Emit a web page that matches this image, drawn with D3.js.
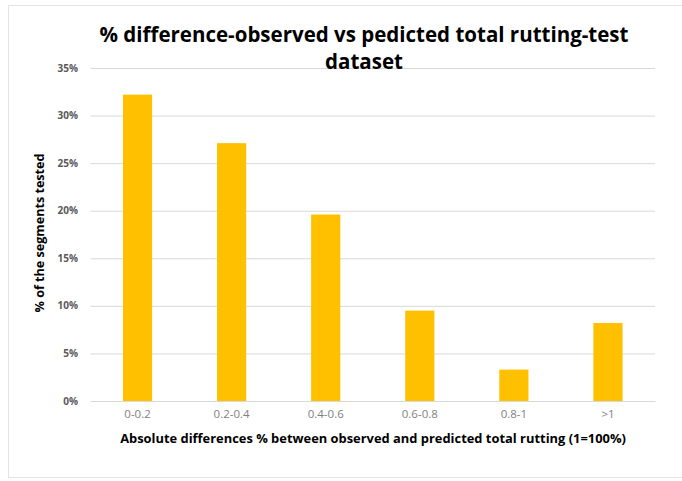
<!DOCTYPE html>
<html>
<head>
<meta charset="utf-8">
<script src="https://cdnjs.cloudflare.com/ajax/libs/d3/7.8.5/d3.min.js"></script>
<style>
  body { margin: 0; background: #fff; }
  text { font-family: "Open Sans", sans-serif; }
</style>
</head>
<body>
<div id="chart"></div>
<script>
var categories = ["0-0.2", "0.2-0.4", "0.4-0.6", "0.6-0.8", "0.8-1", ">1"];
var shares = [0.322, 0.271, 0.196, 0.095, 0.033, 0.082];
var yTicks = [0, 0.05, 0.10, 0.15, 0.20, 0.25, 0.30, 0.35];

var W = 682, H = 481;
var margin = {top: 68, right: 27, bottom: 80, left: 90.5};

var svg = d3.select("#chart").append("svg")
    .attr("width", W)
    .attr("height", H);

// light frame around the chart
svg.append("rect")
    .attr("x", 8.5)
    .attr("y", 5.5)
    .attr("width", 700)
    .attr("height", 472)
    .attr("fill", "#fff")
    .attr("stroke", "#e3e3e3");

var x = d3.scaleBand()
    .domain(categories)
    .range([margin.left, W - margin.right])
    .paddingInner(0.69)
    .paddingOuter(0.345);

var y = d3.scaleLinear()
    .domain([0, 0.35])
    .range([H - margin.bottom, margin.top]);

// gridlines
svg.append("g")
    .attr("class", "grid")
    .attr("transform", "translate(" + margin.left + ",0)")
    .call(d3.axisLeft(y).tickValues(yTicks).tickSize(-(W - margin.right - margin.left)).tickFormat(""))
    .call(function (g) { g.select(".domain").remove(); })
    .selectAll("line")
    .attr("stroke", "#d9d9d9");

// y tick labels
svg.selectAll(".ylab")
    .data(yTicks)
    .enter().append("text")
    .attr("class", "ylab")
    .attr("x", 78)
    .attr("y", function (d) { return y(d); })
    .attr("dy", "0.35em")
    .attr("text-anchor", "end")
    .attr("font-size", 10)
    .attr("font-weight", "bold")
    .attr("fill", "#595959")
    .text(d3.format(".0%"));

// bars
svg.selectAll(".bar")
    .data(shares)
    .enter().append("rect")
    .attr("class", "bar")
    .attr("x", function (d, i) { return x(categories[i]); })
    .attr("y", function (d) { return y(d); })
    .attr("width", x.bandwidth())
    .attr("height", function (d) { return y(0) - y(d); })
    .attr("fill", "#ffc000");

// x axis
var xAxis = svg.append("g")
    .attr("transform", "translate(0," + y(0) + ")")
    .call(d3.axisBottom(x).tickSize(0).tickPadding(9));
xAxis.select(".domain").attr("stroke", "#d9d9d9");
xAxis.selectAll("text")
    .attr("font-family", "Open Sans, sans-serif")
    .attr("font-size", 11.5)
    .attr("fill", "#7f7f7f");

// axis titles
svg.append("text")
    .attr("x", 373)
    .attr("y", 443)
    .attr("text-anchor", "middle")
    .attr("font-size", 12.9)
    .attr("font-weight", "bold")
    .attr("fill", "#000")
    .text("Absolute differences % between observed and predicted total rutting (1=100%)");

svg.append("text")
    .attr("transform", "translate(44,233) rotate(-90)")
    .attr("text-anchor", "middle")
    .attr("font-size", 12.6)
    .attr("font-weight", "bold")
    .attr("fill", "#000")
    .text("% of the segments tested");

// main chart title
var title = svg.append("text")
    .attr("text-anchor", "middle")
    .attr("font-size", 20.5)
    .attr("font-weight", "bold")
    .attr("fill", "#000");
title.append("tspan")
    .attr("x", 364)
    .attr("y", 42)
    .text("% difference-observed vs pedicted total rutting-test");
title.append("tspan")
    .attr("x", 364)
    .attr("y", 69)
    .text("dataset");
</script>
</body>
</html>
